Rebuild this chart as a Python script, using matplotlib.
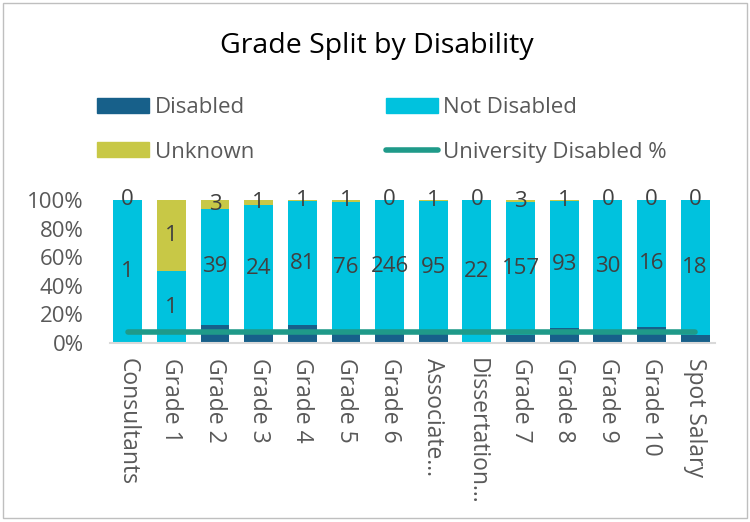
import matplotlib
matplotlib.use("Agg")
import matplotlib.pyplot as plt
import numpy as np
from matplotlib.patches import Rectangle, Patch
from matplotlib.lines import Line2D

plt.rcParams['font.family'] = ['Open Sans', 'DejaVu Sans']

categories = ["Consultants", "Grade 1", "Grade 2", "Grade 3", "Grade 4", "Grade 5", "Grade 6",
              "Associate...", "Dissertation...", "Grade 7", "Grade 8", "Grade 9", "Grade 10", "Spot Salary"]
disabled = [0, 0, 6, 2, 12, 6, 18, 7, 0, 9, 11, 2, 2, 1]
not_disabled = [1, 1, 39, 24, 81, 76, 246, 95, 22, 157, 93, 30, 16, 18]
unknown = [0, 1, 3, 1, 1, 1, 0, 1, 0, 3, 1, 0, 0, 0]
university_pct = 0.08
yticks = [0, 0.2, 0.4, 0.6, 0.8, 1.0]
ytick_labels = ["0%", "20%", "40%", "60%", "80%", "100%"]

c_dis = "#17608A"
c_not = "#00C2DE"
c_unk = "#C8C846"
c_line = "#1F9A89"
txt = "#404040"
txt2 = "#595959"

d = np.array(disabled, float)
n = np.array(not_disabled, float)
u = np.array(unknown, float)
tot = d + n + u
pd_, pn, pu = d / tot, n / tot, u / tot
x = np.arange(len(categories))

fig = plt.figure(figsize=(7.5, 5.22), dpi=100)
ax = fig.add_axes([0.147, 0.343, 0.806, 0.274])
w = 0.66
ax.bar(x, pd_, w, color=c_dis)
ax.bar(x, pn, w, bottom=pd_, color=c_not)
ax.bar(x, pu, w, bottom=pd_ + pn, color=c_unk)
ax.plot(x, [university_pct] * len(x), color=c_line, lw=4, solid_capstyle='round', zorder=5)

for i in range(len(x)):
    ax.text(x[i], pd_[i] + pn[i] / 2, str(not_disabled[i]), ha='center', va='center',
            fontsize=16, color=txt, zorder=6)
    ax.text(x[i], pd_[i] + pn[i] + pu[i] / 2, str(unknown[i]), ha='center', va='center',
            fontsize=16, color=txt, zorder=6)

ax.set_xlim(-0.4, 13.45)
ax.set_ylim(0, 1.0)
ax.set_yticks(yticks)
ax.set_yticklabels(ytick_labels, fontsize=16, color=txt2)
ax.set_xticks(x)
ax.set_xticklabels(categories, rotation=-90, fontsize=16.5, color=txt2, va='top', ha='center')
ax.tick_params(axis='y', length=0, pad=19)
ax.tick_params(axis='x', length=0, pad=11)
for s in ['top', 'right', 'left']:
    ax.spines[s].set_visible(False)
ax.spines['bottom'].set_color('#D9D9D9')
ax.spines['bottom'].set_linewidth(1.5)

fig.text(0.502, 0.911, "Grade Split by Disability", ha='center', va='center', fontsize=20.5, color='black')

handles = [Patch(color=c_dis), Patch(color=c_unk), Patch(color=c_not),
           Line2D([0], [0], color=c_line, lw=4, solid_capstyle='round')]
labels = ["Disabled", "Unknown", "Not Disabled", "University Disabled %"]
leg = fig.legend(handles, labels, ncol=2, loc='upper left', bbox_to_anchor=(0.103, 0.852),
                 frameon=False, fontsize=16, handlelength=2.35, handleheight=0.65,
                 handletextpad=0.25, columnspacing=5.9, labelspacing=1.05, labelcolor=txt2)

fig.patches.append(Rectangle((0.004, 0.008), 0.992, 0.986, transform=fig.transFigure,
                             fill=False, edgecolor='#BFBFBF', lw=1))
fig.savefig("out.png", dpi=100)
